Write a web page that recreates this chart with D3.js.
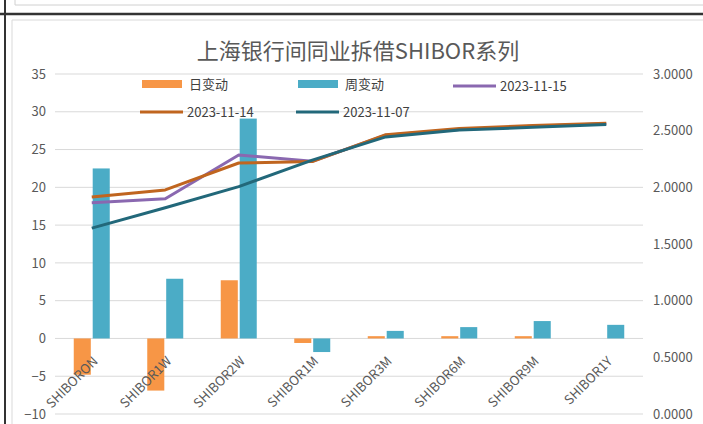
<!DOCTYPE html>
<html>
<head>
<meta charset="utf-8">
<script src="https://cdn.jsdelivr.net/npm/d3@7"></script>
<style>
  body { margin: 0; background: #fff; }
  svg text { font-family: "Noto Sans CJK SC", "DejaVu Sans", sans-serif; }
</style>
</head>
<body>
<script>
// shibor chart data
var categories = ['SHIBORON', 'SHIBOR1W', 'SHIBOR2W', 'SHIBOR1M', 'SHIBOR3M', 'SHIBOR6M', 'SHIBOR9M', 'SHIBOR1Y'];
var dayChange = [-4.8, -6.9, 7.7, -0.6, 0.3, 0.3, 0.3, 0.0];
var weekChange = [22.5, 7.9, 29.1, -1.8, 1.0, 1.5, 2.3, 1.8];
var rate1115 = [1.865, 1.90, 2.286, 2.23, 2.46, 2.51, 2.54, 2.56];
var rate1114 = [1.915, 1.977, 2.215, 2.227, 2.465, 2.52, 2.545, 2.565];
var rate1107 = [1.64, 1.82, 2.006, 2.24, 2.445, 2.505, 2.53, 2.555];
var leftTicks = [-10, -5, 0, 5, 10, 15, 20, 25, 30, 35];
var rightTicks = [0, 0.5, 1, 1.5, 2, 2.5, 3];

var W = 703, H = 424;
var svg = d3.select('body').append('svg').attr('width', W).attr('height', H);

// frame bits (sheet cell borders)
svg.append('rect').attr('x', 0).attr('y', 0).attr('width', W).attr('height', H).attr('fill', '#fff');
svg.append('line').attr('x1', 15).attr('x2', W).attr('y1', 5).attr('y2', 5).attr('stroke', '#d0d0d0');
svg.append('line').attr('x1', 15).attr('x2', 15).attr('y1', 0).attr('y2', 5).attr('stroke', '#d0d0d0');
svg.append('line').attr('x1', 0).attr('x2', W).attr('y1', 14).attr('y2', 14).attr('stroke', '#333').attr('stroke-width', 2.5);
svg.append('line').attr('x1', 5).attr('x2', 5).attr('y1', 0).attr('y2', H).attr('stroke', '#333').attr('stroke-width', 2);
svg.append('line').attr('x1', 12).attr('x2', W).attr('y1', 20).attr('y2', 20).attr('stroke', '#d9d9d9');
svg.append('line').attr('x1', 12).attr('x2', 12).attr('y1', 20).attr('y2', H).attr('stroke', '#d9d9d9');

var plotLeft = 55, plotRight = 643, plotTop = 74, plotBottom = 414;

var x = d3.scaleBand().domain(categories).range([plotLeft, plotRight]);
var bw = x.bandwidth();
var x1 = d3.scaleBand().domain(['day', 'week']).range([bw / 2 - 18, bw / 2 + 18]).paddingInner(0.1);
var yL = d3.scaleLinear().domain([-10, 35]).range([plotBottom, plotTop]);
var yR = d3.scaleLinear().domain([0, 3]).range([plotBottom, plotTop]);

// gridlines
svg.append('g').selectAll('line').data(leftTicks).enter().append('line')
  .attr('x1', plotLeft).attr('x2', plotRight)
  .attr('y1', function(d) { return yL(d); }).attr('y2', function(d) { return yL(d); })
  .attr('stroke', '#d9d9d9').attr('stroke-width', 1);

// axes
var gl = svg.append('g').attr('transform', 'translate(' + (plotLeft - 9) + ',0)')
  .call(d3.axisLeft(yL).tickValues(leftTicks).tickSize(0).tickPadding(0));
gl.select('.domain').remove();
gl.selectAll('text').attr('font-size', 13).attr('fill', '#595959');

var gr = svg.append('g').attr('transform', 'translate(' + (plotRight + 10) + ',0)')
  .call(d3.axisRight(yR).tickValues(rightTicks).tickSize(0).tickPadding(0).tickFormat(d3.format('.4f')));
gr.select('.domain').remove();
gr.selectAll('text').attr('font-size', 13).attr('fill', '#595959');

// bars
var barSeries = [
  { key: 'day', values: dayChange, color: '#F79646' },
  { key: 'week', values: weekChange, color: '#4BACC6' }
];
barSeries.forEach(function(s) {
  svg.append('g').selectAll('rect').data(s.values).enter().append('rect')
    .attr('x', function(d, i) { return x(categories[i]) + x1(s.key); })
    .attr('width', x1.bandwidth())
    .attr('y', function(d) { return yL(Math.max(0, d)); })
    .attr('height', function(d) { return Math.abs(yL(d) - yL(0)); })
    .attr('fill', s.color);
});

// lines
var lineSeries = [
  { name: '2023-11-15', values: rate1115, color: '#8A68B0' },
  { name: '2023-11-14', values: rate1114, color: '#C0651F' },
  { name: '2023-11-07', values: rate1107, color: '#22687A' }
];
var line = d3.line()
  .x(function(d, i) { return x(categories[i]) + bw / 2; })
  .y(function(d) { return yR(d); });
lineSeries.forEach(function(s) {
  svg.append('path').datum(s.values)
    .attr('d', line).attr('fill', 'none')
    .attr('stroke', s.color).attr('stroke-width', 3)
    .attr('stroke-linejoin', 'round');
});

// x labels
svg.append('g').selectAll('text').data(categories).enter().append('text')
  .attr('transform', function(d) { return 'translate(' + (x(d) + bw / 2 + 7) + ',362) rotate(-45)'; })
  .attr('text-anchor', 'end')
  .attr('font-size', 13).attr('fill', '#595959')
  .text(function(d) { return d; });

// title
svg.append('text').attr('x', 358).attr('y', 59).attr('text-anchor', 'middle')
  .attr('font-size', 22).attr('fill', '#595959')
  .text('上海银行间同业拆借SHIBOR系列');

// legend
var legend = [
  { label: '日变动', type: 'rect', color: '#F79646', x: 142, y: 84 },
  { label: '周变动', type: 'rect', color: '#4BACC6', x: 298, y: 84 },
  { label: '2023-11-15', type: 'line', color: '#8A68B0', x: 453, y: 86 },
  { label: '2023-11-14', type: 'line', color: '#C0651F', x: 140, y: 112 },
  { label: '2023-11-07', type: 'line', color: '#22687A', x: 296, y: 112 }
];
legend.forEach(function(l) {
  if (l.type === 'rect') {
    svg.append('rect').attr('x', l.x).attr('y', l.y - 4).attr('width', 40).attr('height', 8).attr('fill', l.color);
  } else {
    svg.append('line').attr('x1', l.x).attr('x2', l.x + 43).attr('y1', l.y).attr('y2', l.y)
      .attr('stroke', l.color).attr('stroke-width', 3);
  }
  svg.append('text').attr('x', l.x + 47).attr('y', l.y + 4.5)
    .attr('font-size', 13).attr('fill', '#404040').text(l.label);
});
</script>
</body>
</html>
